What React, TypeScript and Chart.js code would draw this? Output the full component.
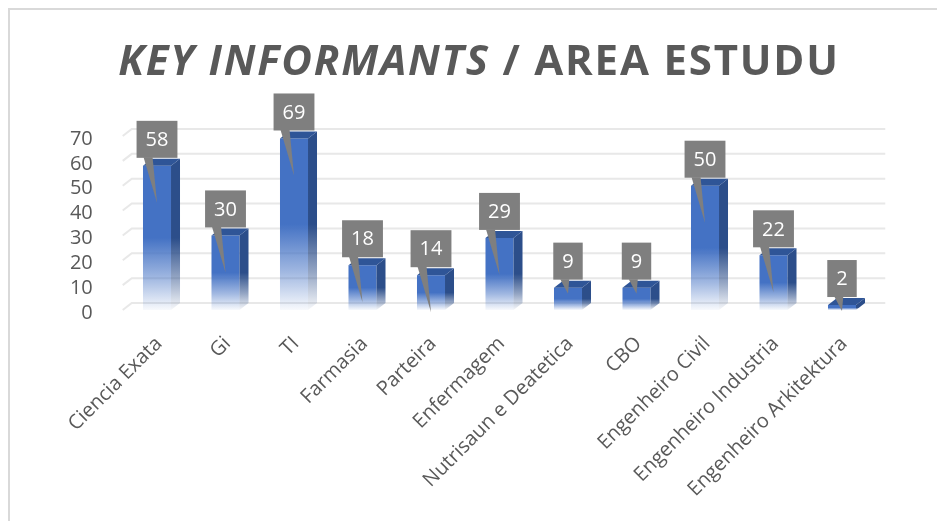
import React, { useEffect, useRef } from "react";
import { Chart, registerables } from "chart.js";

Chart.register(...registerables);

const categories = [
  "Ciencia Exata",
  "Gi",
  "TI",
  "Farmasia",
  "Parteira",
  "Enfermagem",
  "Nutrisaun e Deatetica",
  "CBO",
  "Engenheiro Civil",
  "Engenheiro Industria",
  "Engenheiro Arkitektura",
];
const values = [58, 30, 69, 18, 14, 29, 9, 9, 50, 22, 2];
const yTickValues = [0, 10, 20, 30, 40, 50, 60, 70];
const titleItalic = "KEY INFORMANTS";
const titleRest = " / AREA ESTUDU";

const W = 937;
const H = 513;
const FONT = '"Open Sans", "Liberation Sans", sans-serif';
const DX = 9;
const DY = 7;
const FRONT = "#4472C4";

function frontGradient(ctx: CanvasRenderingContext2D, top: number, bottom: number, r: number, g: number, b: number) {
  const gr = ctx.createLinearGradient(0, top, 0, bottom);
  gr.addColorStop(0, `rgba(${r},${g},${b},1)`);
  gr.addColorStop(0.5, `rgba(${r},${g},${b},1)`);
  gr.addColorStop(0.78, `rgba(${r},${g},${b},0.5)`);
  gr.addColorStop(1, `rgba(${r},${g},${b},0.04)`);
  return gr;
}

function drawSpaced(ctx: any, text: string, x: number, y: number, spacing: number) {
  let cx = x;
  for (const ch of text) {
    ctx.fillText(ch, cx, y);
    cx += ctx.measureText(ch).width + spacing;
  }
  return cx - x;
}
function spacedWidth(ctx: any, text: string, spacing: number) {
  let w = 0;
  for (const ch of text) w += ctx.measureText(ch).width + spacing;
  return w;
}

const decorPlugin = {
  id: "decor",
  beforeDraw(chart: any) {
    const ctx = chart.ctx as CanvasRenderingContext2D;
    ctx.save();
    ctx.fillStyle = "#ffffff";
    ctx.fillRect(0, 0, W, H);
    ctx.fillStyle = "#d9d9d9";
    ctx.fillRect(0, 0, W, 2);
    ctx.fillRect(0, 0, 2, H);
    ctx.fillStyle = "#595959";
    ctx.textBaseline = "alphabetic";
    ctx.textAlign = "left";
    const sp = 1.8;
    const f1 = `italic bold 42px ${FONT}`;
    const f2 = `bold 42px ${FONT}`;
    ctx.font = f1;
    const w1 = spacedWidth(ctx, titleItalic, sp);
    ctx.font = f2;
    const w2 = spacedWidth(ctx, titleRest, sp);
    const start = 471 - (w1 + w2) / 2;
    ctx.font = f1;
    drawSpaced(ctx, titleItalic, start, 67, sp);
    ctx.font = f2;
    drawSpaced(ctx, titleRest, start + w1, 67, sp);
    ctx.restore();
  },
  beforeDatasetsDraw(chart: any) {
    const ctx = chart.ctx as CanvasRenderingContext2D;
    const y = chart.scales.y;
    const { left, right } = chart.chartArea;
    ctx.save();
    ctx.strokeStyle = "#e8e8e8";
    ctx.lineWidth = 2;
    for (const v of yTickValues) {
      const yf = y.getPixelForValue(v);
      const yb = yf - DY;
      ctx.beginPath();
      ctx.moveTo(left, yf);
      ctx.lineTo(left + DX, yb);
      ctx.lineTo(right + DX, yb);
      ctx.stroke();
    }
    ctx.restore();
  },
  afterDatasetsDraw(chart: any) {
    const ctx = chart.ctx as CanvasRenderingContext2D;
    const meta = chart.getDatasetMeta(0);
    ctx.save();
    meta.data.forEach((el: any) => {
      const { x, y: top, width, base } = el.getProps(["x", "y", "width", "base"], true);
      const x0 = x - width / 2;
      const x1 = x + width / 2;
      ctx.fillStyle = frontGradient(ctx, top, base, 44, 78, 138);
      ctx.beginPath();
      ctx.moveTo(x1, top);
      ctx.lineTo(x1 + DX, top - DY);
      ctx.lineTo(x1 + DX, base - DY);
      ctx.lineTo(x1, base);
      ctx.closePath();
      ctx.fill();
      ctx.fillStyle = "#2F5597";
      ctx.beginPath();
      ctx.moveTo(x0, top);
      ctx.lineTo(x1, top);
      ctx.lineTo(x1 + DX, top - DY);
      ctx.lineTo(x0 + DX, top - DY);
      ctx.closePath();
      ctx.fill();
    });
    ctx.font = `20px ${FONT}`;
    meta.data.forEach((el: any, i: number) => {
      const { x, y: top, base } = el.getProps(["x", "y", "base"], true);
      const label = String(values[i]);
      const tw = ctx.measureText(label).width;
      const bw = tw + 18;
      const bh = 37;
      const bx = x - bw / 2;
      const bBottom = top - 8;
      const by = bBottom - bh;
      const tipY = base - top > 30 ? top + 37 : top + 6;
      ctx.fillStyle = "#7f7f7f";
      ctx.fillRect(bx, by, bw, bh);
      ctx.beginPath();
      ctx.moveTo(bx + 7, bBottom - 0.5);
      ctx.lineTo(bx + 16, bBottom - 0.5);
      ctx.lineTo(x, tipY);
      ctx.closePath();
      ctx.fill();
      ctx.fillStyle = "#ffffff";
      ctx.textAlign = "center";
      ctx.textBaseline = "middle";
      ctx.fillText(label, x, by + bh / 2 + 1);
    });
    ctx.restore();
  },
};

export default function App() {
  const ref = useRef<HTMLCanvasElement | null>(null);
  useEffect(() => {
    if (!ref.current) return;
    const chart = new Chart(ref.current, {
      type: "bar",
      data: {
        labels: categories,
        datasets: [
          {
            data: values,
            barPercentage: 0.409,
            categoryPercentage: 1,
            borderWidth: 0,
            backgroundColor: (c: any) => {
              const ch = c.chart;
              if (!ch.chartArea || c.raw === undefined) return FRONT;
              const ys = ch.scales.y;
              const top = ys.getPixelForValue(c.raw);
              const bottom = ys.getPixelForValue(0);
              return frontGradient(ch.ctx, top, bottom, 68, 114, 196);
            },
          },
        ],
      },
      options: {
        responsive: false,
        animation: false,
        devicePixelRatio: 1,
        layout: { padding: { top: 128, right: 68.75, left: 0, bottom: 0 } },
        plugins: {
          legend: { display: false },
          title: { display: false },
          tooltip: { enabled: false },
        },
        scales: {
          x: {
            grid: { display: false },
            border: { display: false },
            ticks: {
              autoSkip: false,
              minRotation: 45,
              maxRotation: 45,
              padding: 14,
              labelOffset: 2,
              color: "#595959",
              font: { family: FONT, size: 20 },
            },
            afterFit: (s: any) => {
              s.height = 211;
            },
          },
          y: {
            min: 0,
            max: 70,
            grid: { display: false },
            border: { display: false },
            ticks: {
              stepSize: 10,
              autoSkip: false,
              padding: 22,
              labelOffset: 3,
              color: "#595959",
              font: { family: FONT, size: 20 },
            },
            afterFit: (s: any) => {
              s.width = 114.75;
            },
          },
        },
      },
      plugins: [decorPlugin],
    });
    return () => chart.destroy();
  }, []);
  return (
    <canvas ref={ref} width={W} height={H} style={{ display: "block", width: W, height: H }} />
  );
}
